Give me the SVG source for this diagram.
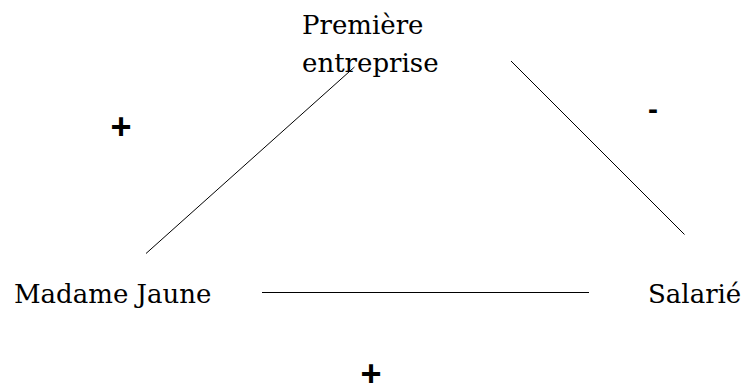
<svg xmlns="http://www.w3.org/2000/svg" width="742" height="387" viewBox="0 0 742 387">
<style>
.lbl{font-family:"DejaVu Serif","Liberation Serif",serif;font-size:26px;fill:#000}
.sign{font-family:"Liberation Sans",Arial,sans-serif;font-weight:bold;fill:#000}
.edge{stroke:#000;stroke-width:1;fill:none}
</style>
<rect width="742" height="387" fill="#fff"/>
<g id="connectors">
<line class="edge" x1="146" y1="253.5" x2="354.5" y2="67"/>
<line class="edge" x1="511" y1="61" x2="684.5" y2="234.5"/>
<line class="edge" x1="262" y1="292.5" x2="589" y2="292.5"/>
</g>
<g id="node-entreprise">
<text class="lbl" x="302" y="33.5">Première</text>
<text class="lbl" x="302" y="71.5">entreprise</text>
</g>
<g id="node-madame">
<text class="lbl" x="14" y="303">Madame Jaune</text>
</g>
<g id="node-salarie">
<text class="lbl" x="648" y="303">Salarié</text>
</g>
<g id="signs">
<text class="sign" x="121" y="139" font-size="36" text-anchor="middle">+</text>
<text class="sign" x="653" y="119" font-size="30" text-anchor="middle">-</text>
<text class="sign" x="371" y="386" font-size="36" text-anchor="middle">+</text>
</g>
</svg>
